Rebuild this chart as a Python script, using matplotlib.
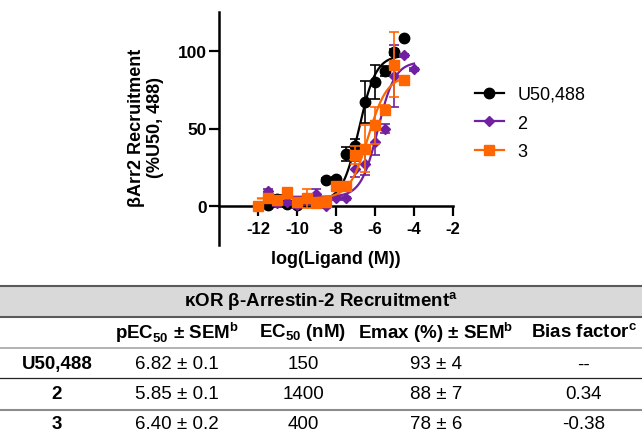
import numpy as np
import matplotlib.pyplot as plt
from matplotlib.lines import Line2D

plt.rcParams['font.family'] = ['Liberation Sans', 'DejaVu Sans']

# log(Ligand (M)) vs % U50,488 response
x_u50 = [-11.5, -11, -10.5, -10, -9.5, -9, -8.5, -8, -7.5, -7, -6.5, -6, -5.5, -5, -4.5]
y_u50 = [0.5, 4.5, 1.5, 1, 3, 2.5, 17, 17.5, 33.5, 38.5, 67, 80, 87, 99, 108]
e_u50 = [2, 3, 2, 2, 2, 2, 1, 1, 4.5, 5, 13.5, 11, 3, 2, 1]

x_c2 = [-11.5, -11, -10.5, -10, -9.5, -9, -8.5, -8, -7.5, -7, -6.5, -6, -5.5, -5, -4.5, -4]
y_c2 = [10, 2, 3, 1, 4, 8, 0, 5, 5, 24, 27, 41, 50, 84, 97, 88]
e_c2 = [1, 2, 2, 2, 3, 3, 1, 1, 1, 5, 7, 8, 3, 20, 1, 1]

x_c3 = [-12, -11.5, -11, -10.5, -10, -9.5, -9, -8.5, -8, -7.5, -7, -6.5, -6, -5.5, -5, -4.5]
y_c3 = [0, 5, 4, 9, 3, 5, 2, 3, 13, 13, 33, 37, 52, 62, 91, 81]
e_c3 = [1, 2, 2, 2, 2, 6, 2, 2, 2, 2, 6, 15, 12, 3, 21, 1]

# four-parameter fit: bottom, top, logEC50, hill slope
fit_u50 = (3, 97, -6.82, 1.0)
fit_c2 = (6, 93, -5.85, 1.0)
fit_c3 = (5, 84, -6.35, 0.9)

labels = ["U50,488", "2", "3"]
colors = ["black", "#7020a0", "#ff6600"]
markers = ["o", "D", "s"]
msizes = [7.5, 5.5, 7]

# table
tbl_title = r"κOR β-Arrestin-2 Recruitment$^\mathregular{a}$"
col_heads = ["", r"pEC$_\mathregular{50}$ ± SEM$^\mathregular{b}$", r"EC$_\mathregular{50}$ (nM)",
             r"Emax (%) ± SEM$^\mathregular{b}$", r"Bias factor$^\mathregular{c}$"]
names = ["U50,488", "2", "3"]
pec50 = ["6.82 ± 0.1", "5.85 ± 0.1", "6.40 ± 0.2"]
ec50 = ["150", "1400", "400"]
emax = ["93 ± 4", "88 ± 7", "78 ± 6"]
bias = ["--", "0.34", "-0.38"]


def hill(x, p):
    bottom, top, logec, h = p
    return bottom + (top - bottom) / (1 + 10 ** ((logec - x) * h))


fig = plt.figure(figsize=(6.42, 4.35), dpi=100)

# table drawn in pixel coords on a full-figure axes
tax = fig.add_axes([0, 0, 1, 1], zorder=0)
tax.set_xlim(0, 642)
tax.set_ylim(435, 0)
tax.axis('off')
tax.axhspan(287, 318, color='#d9d9d9', lw=0)
tax.axhline(287, color='#5a5a5a', lw=1.5)
tax.axhline(318, color='#5a5a5a', lw=1.5)
tax.axhline(349, color='#a6a6a6', lw=1.2)
tax.axhline(379, color='#222222', lw=0.9)
tax.axhline(411, color='#8c8c8c', lw=1.5)

col_x = [57, 177, 303, 436, 584]
row_y = [365, 395, 425]
fs = 13.5
tax.text(321, 302, tbl_title, ha='center', va='center', fontsize=fs, fontweight='bold')
for cx, h in zip(col_x, col_heads):
    tax.text(cx, 333, h, ha='center', va='center', fontsize=fs, fontweight='bold')
for i, ry in enumerate(row_y):
    tax.text(col_x[0], ry, names[i], ha='center', va='center', fontsize=fs, fontweight='bold')
    for cx, col in zip(col_x[1:], [pec50, ec50, emax, bias]):
        tax.text(cx, ry, col[i], ha='center', va='center', fontsize=fs)

# dose response plot
ax = fig.add_axes([219 / 642, 1 - 246 / 435, 234 / 642, 233 / 435], zorder=2)
ax.patch.set_alpha(0)

series = [(x_u50, y_u50, e_u50, fit_u50), (x_c2, y_c2, e_c2, fit_c2), (x_c3, y_c3, e_c3, fit_c3)]
order = [1, 2, 0]
for k in order:
    xs, ys, es, p = series[k]
    xf = np.linspace(min(xs), max(xs), 300)
    ax.plot(xf, hill(xf, p), color=colors[k], lw=1.6, zorder=2 + k)
    ax.errorbar(xs, ys, yerr=es, fmt=markers[k], color=colors[k], ms=msizes[k],
                capsize=3.8, elinewidth=1.2, capthick=1.2, zorder=2 + k)

ax.set_xlim(-14, -2)
ax.set_ylim(-25, 125)
ax.set_xticks([-12, -10, -8, -6, -4, -2])
ax.set_xticklabels(["-12", "-10", "-8", "-6", "-4", "-2"])
ax.set_yticks([0, 50, 100])
ax.spines['top'].set_visible(False)
ax.spines['right'].set_visible(False)
ax.spines['bottom'].set_position(('data', 0))
for s in ['left', 'bottom']:
    ax.spines[s].set_linewidth(1.8)
ax.tick_params(axis='both', width=1.6, length=7, pad=2)
ax.tick_params(axis='y', labelsize=12.5)
ax.tick_params(axis='x', labelsize=12, pad=4)
for t in ax.get_xticklabels() + ax.get_yticklabels():
    t.set_fontweight('bold')

fig.text(336 / 642, 1 - 259 / 435, "log(Ligand (M))", ha='center', va='center',
         fontsize=13, fontweight='bold')
fig.text(146 / 642, 1 - 128 / 435, "βArr2 Recruitment\n(%U50, 488)", ha='center', va='center',
         rotation=90, fontsize=13, fontweight='bold', linespacing=1.1)

handles = [Line2D([], [], color=c, marker=m, ms=s, lw=1.6)
           for c, m, s in zip(colors, markers, msizes)]
fig.legend(handles, labels, loc='upper left', bbox_to_anchor=(475 / 642, 1 - 87 / 435),
           frameon=False, fontsize=13, handlelength=1.6, handletextpad=0.75,
           labelspacing=0.65, borderpad=0, borderaxespad=0)

fig.savefig("out.png", dpi=100)
